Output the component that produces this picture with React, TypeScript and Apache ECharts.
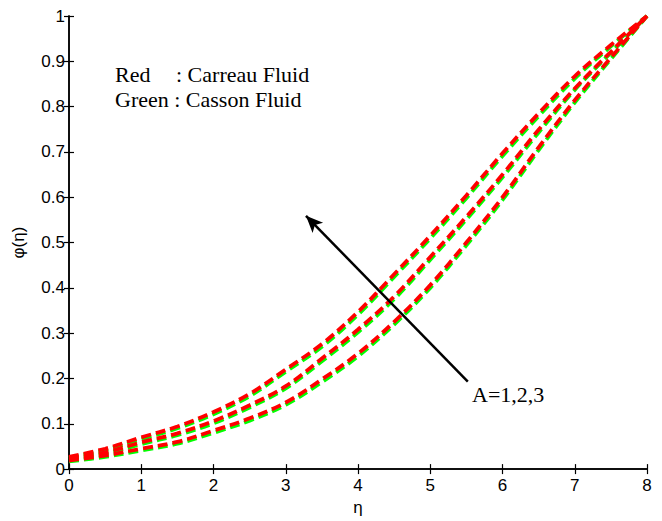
import React, { useEffect, useRef } from "react";
import * as echarts from "echarts";

const etaValues = [0, 0.5, 1, 1.5, 2, 2.5, 3, 3.5, 4, 4.5, 5, 5.5, 6, 6.5, 7, 7.5, 8];

const greenA1 = [0.017, 0.027, 0.041, 0.056, 0.080, 0.107, 0.142, 0.192, 0.249, 0.319, 0.400, 0.494, 0.594, 0.704, 0.809, 0.905, 1.0];
const greenA2 = [0.021, 0.034, 0.055, 0.075, 0.101, 0.136, 0.178, 0.238, 0.302, 0.375, 0.462, 0.551, 0.644, 0.743, 0.837, 0.919, 1.0];
const greenA3 = [0.025, 0.042, 0.066, 0.090, 0.121, 0.161, 0.215, 0.270, 0.341, 0.424, 0.509, 0.598, 0.691, 0.779, 0.862, 0.933, 1.0];

const redA1 = [0.019, 0.030, 0.045, 0.060, 0.085, 0.112, 0.147, 0.198, 0.255, 0.325, 0.406, 0.500, 0.600, 0.710, 0.814, 0.908, 1.0];
const redA2 = [0.023, 0.037, 0.059, 0.079, 0.106, 0.141, 0.183, 0.244, 0.308, 0.381, 0.468, 0.557, 0.650, 0.749, 0.840, 0.921, 1.0];
const redA3 = [0.027, 0.045, 0.070, 0.094, 0.126, 0.166, 0.220, 0.276, 0.347, 0.430, 0.515, 0.604, 0.697, 0.785, 0.867, 0.936, 1.0];

const xTicks = [0, 1, 2, 3, 4, 5, 6, 7, 8];
const yTicks = [0, 0.1, 0.2, 0.3, 0.4, 0.5, 0.6, 0.7, 0.8, 0.9, 1];

const arrowFrom = [5.52, 0.193];
const arrowTo = [3.28, 0.559];

const legendRed = "Red";
const legendRedDesc = ": Carreau Fluid";
const legendGreen = "Green : Casson Fluid";
const annotation = "A=1,2,3";

const pairs = (ys: number[]) => etaValues.map((x, i) => [x, ys[i]]);

export default function App() {
  const ref = useRef<HTMLDivElement>(null);
  useEffect(() => {
    if (!ref.current) return;
    const chart = echarts.init(ref.current, undefined, { renderer: "svg" });
    const axisLine = { show: true, lineStyle: { color: "#000", width: 1.5 } };
    const tickStyle = { show: true, inside: true, length: 5, lineStyle: { color: "#000", width: 1.2 } };
    const lbl = { color: "#000", fontFamily: "Arial, 'Liberation Sans', sans-serif", fontSize: 17 };
    const mkLine = (ys: number[], color: string, extra: any = {}) => ({
      type: "line",
      data: pairs(ys),
      smooth: 0.35,
      showSymbol: false,
      symbol: "none",
      silent: true,
      lineStyle: { color, width: 3.8, type: [10, 5] },
      ...extra,
    });
    chart.setOption({
      animation: false,
      backgroundColor: "#fff",
      grid: { left: 69, right: 15, top: 16, bottom: 49, containLabel: false },
      xAxis: [
        {
          type: "value",
          min: 0,
          max: 8,
          interval: 1,
          position: "bottom",
          name: "η",
          nameLocation: "middle",
          nameGap: 26,
          nameTextStyle: { color: "#000", fontFamily: "Arial, 'Liberation Sans', sans-serif", fontSize: 17 },
          axisLine,
          axisTick: tickStyle,
          axisLabel: { ...lbl, margin: 8, formatter: (v: number) => (xTicks.includes(v) ? String(v) : "") },
          splitLine: { show: false },
        },
        {
          type: "value",
          min: 0,
          max: 8,
          interval: 1,
          position: "top",
          axisLine,
          axisTick: tickStyle,
          axisLabel: { show: false },
          splitLine: { show: false },
        },
      ],
      yAxis: [
        {
          type: "value",
          min: 0,
          max: 1,
          interval: 0.1,
          position: "left",
          name: "φ(η)",
          nameLocation: "middle",
          nameGap: 42,
          nameRotate: 90,
          nameTextStyle: { color: "#000", fontFamily: "Arial, 'Liberation Sans', sans-serif", fontSize: 17 },
          axisLine,
          axisTick: tickStyle,
          axisLabel: {
            ...lbl,
            margin: 4,
            formatter: (v: number) => {
              const t = yTicks.find((y) => Math.abs(y - v) < 1e-9);
              return t === undefined ? "" : String(t);
            },
          },
          splitLine: { show: false },
        },
        {
          type: "value",
          min: 0,
          max: 1,
          interval: 0.1,
          position: "right",
          axisLine,
          axisTick: tickStyle,
          axisLabel: { show: false },
          splitLine: { show: false },
        },
      ],
      series: [
        mkLine(greenA1, "#00ff00"),
        mkLine(greenA2, "#00ff00"),
        mkLine(greenA3, "#00ff00"),
        mkLine(redA1, "#ff0000"),
        mkLine(redA2, "#ff0000"),
        mkLine(redA3, "#ff0000", {
          markLine: {
            silent: true,
            symbol: ["none", "arrow"],
            symbolSize: [11, 17],
            label: { show: false },
            lineStyle: { color: "#000", width: 2.5, type: "solid" },
            data: [[{ coord: arrowFrom }, { coord: arrowTo }]],
          },
        }),
      ],
      graphic: [
        {
          type: "text",
          left: 115,
          top: 63,
          style: { text: legendRed, fill: "#000", font: "22px 'Liberation Serif', 'Times New Roman', serif" },
        },
        {
          type: "text",
          left: 176,
          top: 63,
          style: { text: legendRedDesc, fill: "#000", font: "22px 'Liberation Serif', 'Times New Roman', serif" },
        },
        {
          type: "text",
          left: 115,
          top: 88,
          style: { text: legendGreen, fill: "#000", font: "22px 'Liberation Serif', 'Times New Roman', serif" },
        },
        {
          type: "text",
          left: 472,
          top: 383,
          style: { text: annotation, fill: "#000", font: "22px 'Liberation Serif', 'Times New Roman', serif" },
        },
      ],
    });
    return () => chart.dispose();
  }, []);
  return (
    <div
      ref={ref}
      style={{ position: "fixed", left: 0, top: 0, width: 662, height: 521, background: "#fff" }}
    />
  );
}
